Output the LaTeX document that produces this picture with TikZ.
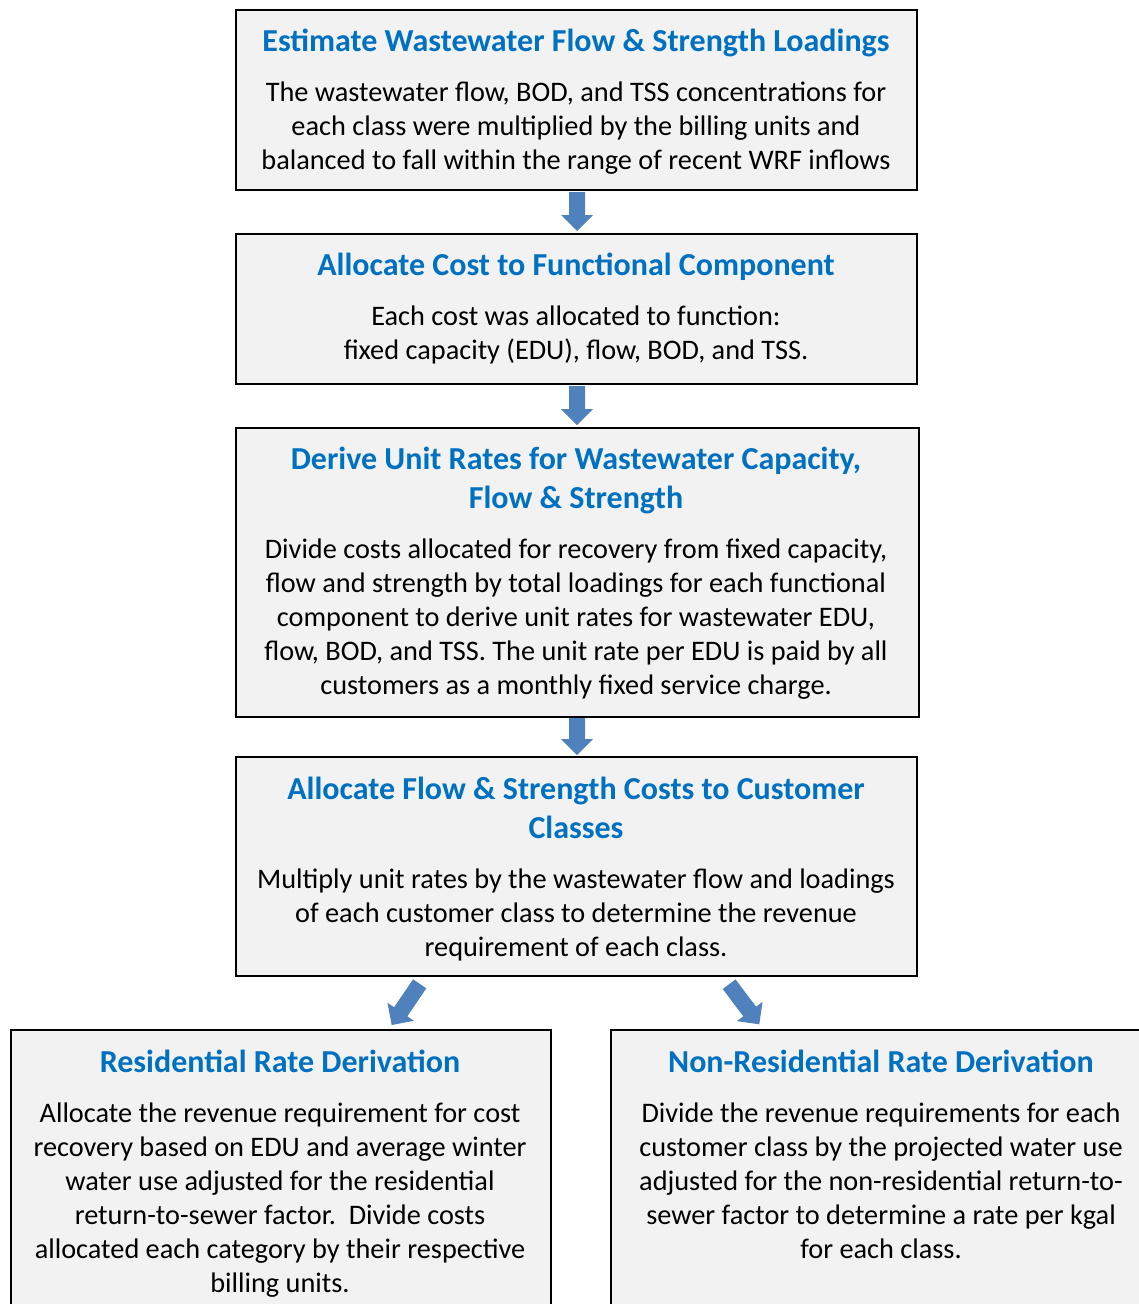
\documentclass[tikz,border=0pt]{standalone}
\usepackage{fontspec}
\setmainfont{Carlito}
\usetikzlibrary{calc}
\definecolor{arrowblue}{HTML}{4F81BD}
\definecolor{titleblue}{HTML}{0070C0}
\definecolor{boxfill}{HTML}{F2F2F2}
\newcommand\myblockarrow[2]{%
  \fill[arrowblue] ($(#1)!8pt!90:(#2)$) -- ($(#2)!16pt!(#1)!8pt!-90:(#1)$) -- ($(#2)!16pt!(#1)!16pt!-90:(#1)$) -- (#2)
   -- ($(#2)!16pt!(#1)!16pt!90:(#1)$) -- ($(#2)!16pt!(#1)!8pt!90:(#1)$) -- ($(#1)!8pt!-90:(#2)$) -- cycle;}
\begin{document}
\begin{tikzpicture}[x=1pt,y=-1pt,
  box/.style={draw=black, line width=1.5pt, fill=boxfill, anchor=north west, inner sep=0pt},
  ttl/.style={anchor=north, align=center, inner sep=0pt, text=titleblue, font=\fontsize{32}{39}\selectfont\bfseries},
  body/.style={anchor=north, align=center, inner sep=0pt, font=\fontsize{28.3}{34}\selectfont}]
\useasboundingbox (0,0) rectangle (1139,1304);
\clip (0,0) rectangle (1139,1304);
\fill[white] (0,0) rectangle (1139,1304);
% boxes
\node[box, minimum width=681pt, minimum height=180pt] (b1) at (235,9) {};
\node[box, minimum width=681pt, minimum height=150pt] (b2) at (235,233) {};
\node[box, minimum width=683pt, minimum height=289pt] (b3) at (235,427) {};
\node[box, minimum width=681pt, minimum height=219pt] (b4) at (235,756) {};
\node[box, minimum width=540pt, minimum height=300pt] (b5) at (10,1029) {};
\node[box, minimum width=560pt, minimum height=300pt] (b6) at (610,1029) {};
% texts
\node[ttl] (t1) at (576,23.5) {\strut Estimate Wastewater Flow \& Strength Loadings};
\node[body] (d1) at (576,77.5) {\strut The wastewater flow, BOD, and TSS concentrations for\\ each class were multiplied by the billing units and\\ balanced to fall within the range of recent WRF inflows};
\node[ttl] (t2) at (576,247.5) {\strut Allocate Cost to Functional Component};
\node[body] (d2) at (576,301.5) {\strut Each cost was allocated to function:\\ fixed capacity (EDU), flow, BOD, and TSS.};
\node[ttl] (t3) at (576,441.5) {\strut Derive Unit Rates for Wastewater Capacity,\\ Flow \& Strength};
\node[body] (d3) at (576,534.5) {\strut Divide costs allocated for recovery from fixed capacity,\\ flow and strength by total loadings for each functional\\ component to derive unit rates for wastewater EDU,\\ flow, BOD, and TSS. The unit rate per EDU is paid by all\\ customers as a monthly fixed service charge.};
\node[ttl] (t4) at (576,771.5) {\strut Allocate Flow \& Strength Costs to Customer\\ Classes};
\node[body] (d4) at (576,864.5) {\strut Multiply unit rates by the wastewater flow and loadings\\ of each customer class to determine the revenue\\ requirement of each class.};
\node[ttl] (t5) at (280,1044.5) {\strut Residential Rate Derivation};
\node[body] (d5) at (280,1098.5) {\strut Allocate the revenue requirement for cost\\ recovery based on EDU and average winter\\ water use adjusted for the residential\\ return-to-sewer factor.\ \ Divide costs\\ allocated each category by their respective\\ billing units.};
\node[ttl] (t6) at (881,1044.5) {\strut Non-Residential Rate Derivation};
\node[body] (d6) at (881,1098.5) {\strut Divide the revenue requirements for each\\ customer class by the projected water use\\ adjusted for the non-residential return-to-\\ sewer factor to determine a rate per kgal\\ for each class.};
% arrows
\coordinate (a1s) at (577,192); \coordinate (a1e) at (577,231);
\coordinate (a2s) at (577,386); \coordinate (a2e) at (577,425);
\coordinate (a3s) at (577,718); \coordinate (a3e) at (577,755);
\coordinate (a4s) at (419.7,983.8); \coordinate (a4e) at (391.7,1025);
\coordinate (a5s) at (729.2,984.2); \coordinate (a5e) at (759.3,1024.3);
\myblockarrow{a1s}{a1e}
\myblockarrow{a2s}{a2e}
\myblockarrow{a3s}{a3e}
\myblockarrow{a4s}{a4e}
\myblockarrow{a5s}{a5e}
\end{tikzpicture}
\end{document}
